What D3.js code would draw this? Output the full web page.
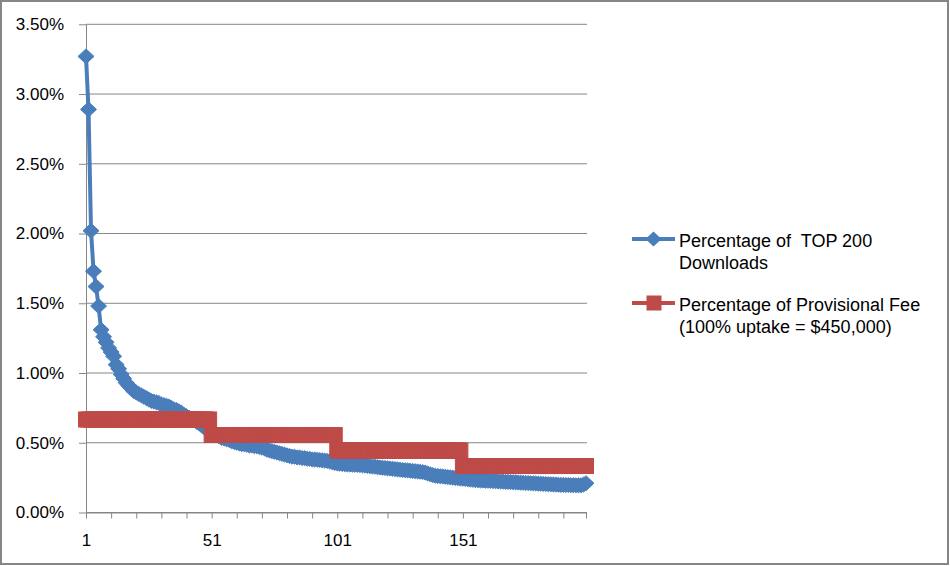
<!DOCTYPE html>
<html>
<head>
<meta charset="utf-8">
<script src="https://cdnjs.cloudflare.com/ajax/libs/d3/7.8.5/d3.min.js"></script>
<style>
body { margin: 0; background: #fff; }
text { font-family: "Liberation Sans", Arial, sans-serif; fill: #000; }
</style>
</head>
<body>
<svg id="chart"></svg>
<script>
// ranks 1..200 on the category axis
const ranks = d3.range(1, 201);
const xTickRanks = [1, 11, 21, 31, 41, 51, 61, 71, 81, 91, 101, 111, 121, 131, 141, 151, 161, 171, 181, 191, 200];
const xLabelRanks = [1, 51, 101, 151];
const yTicks = [0, 0.5, 1.0, 1.5, 2.0, 2.5, 3.0, 3.5];

const seriesNames = ["Percentage of  TOP 200|Downloads", "Percentage of Provisional Fee|(100% uptake = $450,000)"];

// percentage of top 200 downloads
const downloads = [
    3.27, 2.89, 2.02, 1.73, 1.62, 1.48, 1.31, 1.26, 1.22, 1.18,
    1.15, 1.12, 1.06, 1.03, 0.99, 0.96, 0.93, 0.91, 0.89, 0.87,
    0.86, 0.85, 0.84, 0.83, 0.82, 0.81, 0.80, 0.795, 0.79, 0.785,
    0.775, 0.77, 0.765, 0.76, 0.75, 0.74, 0.735, 0.725, 0.715, 0.70,
    0.69, 0.68, 0.67, 0.66, 0.65, 0.64, 0.625, 0.61, 0.60, 0.59,
    0.58, 0.57, 0.555, 0.545, 0.535, 0.53, 0.525, 0.52, 0.51, 0.505,
    0.50, 0.495, 0.49, 0.49, 0.485, 0.48, 0.48, 0.475, 0.475, 0.47,
    0.465, 0.46, 0.45, 0.445, 0.44, 0.435, 0.43, 0.425, 0.42, 0.415,
    0.41, 0.405, 0.40, 0.40, 0.395, 0.395, 0.39, 0.39, 0.385, 0.385,
    0.38, 0.38, 0.378, 0.376, 0.374, 0.372, 0.37, 0.365, 0.36, 0.355,
    0.352, 0.35, 0.348, 0.346, 0.345, 0.344, 0.343, 0.342, 0.341, 0.34,
    0.338, 0.336, 0.334, 0.332, 0.33, 0.328, 0.325, 0.323, 0.321, 0.319,
    0.317, 0.315, 0.313, 0.311, 0.309, 0.307, 0.305, 0.303, 0.302, 0.30,
    0.298, 0.296, 0.294, 0.292, 0.29, 0.286, 0.28, 0.274, 0.268, 0.264,
    0.262, 0.26, 0.258, 0.256, 0.254, 0.252, 0.25, 0.248, 0.246, 0.244,
    0.242, 0.24, 0.238, 0.236, 0.234, 0.232, 0.231, 0.23, 0.229, 0.228,
    0.227, 0.226, 0.225, 0.224, 0.223, 0.222, 0.221, 0.22, 0.219, 0.218,
    0.217, 0.216, 0.215, 0.214, 0.213, 0.212, 0.211, 0.21, 0.209, 0.208,
    0.207, 0.206, 0.205, 0.204, 0.203, 0.202, 0.201, 0.200, 0.199, 0.198,
    0.198, 0.197, 0.197, 0.196, 0.196, 0.195, 0.195, 0.195, 0.20, 0.21
];

// percentage of provisional fee
const provisionalFee = [
    0.6667, 0.6667, 0.6667, 0.6667, 0.6667, 0.6667, 0.6667, 0.6667, 0.6667, 0.6667,
    0.6667, 0.6667, 0.6667, 0.6667, 0.6667, 0.6667, 0.6667, 0.6667, 0.6667, 0.6667,
    0.6667, 0.6667, 0.6667, 0.6667, 0.6667, 0.6667, 0.6667, 0.6667, 0.6667, 0.6667,
    0.6667, 0.6667, 0.6667, 0.6667, 0.6667, 0.6667, 0.6667, 0.6667, 0.6667, 0.6667,
    0.6667, 0.6667, 0.6667, 0.6667, 0.6667, 0.6667, 0.6667, 0.6667, 0.6667, 0.6667,
    0.5556, 0.5556, 0.5556, 0.5556, 0.5556, 0.5556, 0.5556, 0.5556, 0.5556, 0.5556,
    0.5556, 0.5556, 0.5556, 0.5556, 0.5556, 0.5556, 0.5556, 0.5556, 0.5556, 0.5556,
    0.5556, 0.5556, 0.5556, 0.5556, 0.5556, 0.5556, 0.5556, 0.5556, 0.5556, 0.5556,
    0.5556, 0.5556, 0.5556, 0.5556, 0.5556, 0.5556, 0.5556, 0.5556, 0.5556, 0.5556,
    0.5556, 0.5556, 0.5556, 0.5556, 0.5556, 0.5556, 0.5556, 0.5556, 0.5556, 0.5556,
    0.4444, 0.4444, 0.4444, 0.4444, 0.4444, 0.4444, 0.4444, 0.4444, 0.4444, 0.4444,
    0.4444, 0.4444, 0.4444, 0.4444, 0.4444, 0.4444, 0.4444, 0.4444, 0.4444, 0.4444,
    0.4444, 0.4444, 0.4444, 0.4444, 0.4444, 0.4444, 0.4444, 0.4444, 0.4444, 0.4444,
    0.4444, 0.4444, 0.4444, 0.4444, 0.4444, 0.4444, 0.4444, 0.4444, 0.4444, 0.4444,
    0.4444, 0.4444, 0.4444, 0.4444, 0.4444, 0.4444, 0.4444, 0.4444, 0.4444, 0.4444,
    0.3333, 0.3333, 0.3333, 0.3333, 0.3333, 0.3333, 0.3333, 0.3333, 0.3333, 0.3333,
    0.3333, 0.3333, 0.3333, 0.3333, 0.3333, 0.3333, 0.3333, 0.3333, 0.3333, 0.3333,
    0.3333, 0.3333, 0.3333, 0.3333, 0.3333, 0.3333, 0.3333, 0.3333, 0.3333, 0.3333,
    0.3333, 0.3333, 0.3333, 0.3333, 0.3333, 0.3333, 0.3333, 0.3333, 0.3333, 0.3333,
    0.3333, 0.3333, 0.3333, 0.3333, 0.3333, 0.3333, 0.3333, 0.3333, 0.3333, 0.3333
];

// layout
const width = 950;
const height = 566;
const plot = {left: 86, right: 586, top: 24.3, bottom: 512.5};
const gridColor = "#868686";
const blue = "#4a7ebb";
const red = "#be4b48";

const svg = d3.select("#chart")
    .attr("width", width)
    .attr("height", height);

// outer frame
svg.append("rect")
    .attr("x", 1).attr("y", 1)
    .attr("width", width - 3).attr("height", height - 3)
    .attr("fill", "#fff")
    .attr("stroke", gridColor)
    .attr("stroke-width", 2);

const x = d3.scalePoint()
    .domain(ranks)
    .range([plot.left, plot.right]);

const y = d3.scaleLinear()
    .domain([0, 3.5])
    .range([plot.bottom, plot.top]);

// horizontal gridlines
svg.append("g")
    .selectAll("line")
    .data(yTicks)
    .enter()
    .append("line")
    .attr("x1", plot.left)
    .attr("x2", plot.right + 1)
    .attr("y1", d => y(d))
    .attr("y2", d => y(d))
    .attr("stroke", gridColor)
    .attr("stroke-width", 1);

// Y axis
const yAxis = svg.append("g")
    .attr("transform", "translate(" + plot.left + ",0)")
    .call(d3.axisLeft(y)
        .tickValues(yTicks)
        .tickFormat(d => d.toFixed(2) + "%")
        .tickSizeInner(7)
        .tickSizeOuter(0)
        .tickPadding(15));
yAxis.selectAll("path, line").attr("stroke", gridColor);
yAxis.selectAll("text")
    .style("font-size", "17px")
    .style("font-family", "'Liberation Sans', Arial, sans-serif")
    .attr("fill", "#000");

// X axis
const xAxis = svg.append("g")
    .attr("transform", "translate(0," + plot.bottom + ")")
    .call(d3.axisBottom(x)
        .tickValues(xTickRanks)
        .tickFormat(d => xLabelRanks.includes(d) ? d : "")
        .tickSizeInner(6)
        .tickSizeOuter(0)
        .tickPadding(15));
xAxis.selectAll("path, line").attr("stroke", gridColor);
xAxis.selectAll("text")
    .style("font-size", "17px")
    .style("font-family", "'Liberation Sans', Arial, sans-serif")
    .attr("fill", "#000");

const diamond = "M0,-7.5L8,0L0,7.5L-8,0Z";

function drawSeries(values, color, marker) {
    const line = d3.line()
        .x((d, i) => x(ranks[i]))
        .y(d => y(d));

    svg.append("path")
        .datum(values)
        .attr("d", line)
        .attr("fill", "none")
        .attr("stroke", color)
        .attr("stroke-width", 4)
        .attr("stroke-linejoin", "round");

    const g = svg.append("g");
    if (marker === "diamond") {
        g.selectAll("path")
            .data(values)
            .enter()
            .append("path")
            .attr("d", diamond)
            .attr("transform", (d, i) => "translate(" + x(ranks[i]) + "," + y(d) + ")")
            .attr("fill", color)
            .attr("stroke", color)
            .attr("stroke-width", 1);
    } else {
        g.selectAll("rect")
            .data(values)
            .enter()
            .append("rect")
            .attr("x", (d, i) => x(ranks[i]) - 7.5)
            .attr("y", d => y(d) - 7.5)
            .attr("width", 15)
            .attr("height", 15)
            .attr("fill", color)
            .attr("stroke", color)
            .attr("stroke-width", 1);
    }
}

drawSeries(downloads, blue, "diamond");
drawSeries(provisionalFee, red, "square");

// legend
const legendItems = [
    {name: seriesNames[0], color: blue, marker: "diamond", y: 239},
    {name: seriesNames[1], color: red, marker: "square", y: 303}
];

legendItems.forEach(function(item) {
    const g = svg.append("g");
    g.append("line")
        .attr("x1", 632).attr("x2", 675)
        .attr("y1", item.y).attr("y2", item.y)
        .attr("stroke", item.color)
        .attr("stroke-width", 4);
    if (item.marker === "diamond") {
        g.append("path")
            .attr("d", diamond)
            .attr("transform", "translate(653.5," + item.y + ")")
            .attr("fill", item.color);
    } else {
        g.append("rect")
            .attr("x", 646.5).attr("y", item.y - 7.5)
            .attr("width", 15).attr("height", 15)
            .attr("fill", item.color);
    }
    item.name.split("|").forEach(function(txt, k) {
        g.append("text")
            .attr("x", 679)
            .attr("y", item.y + 7.5 + k * 22)
            .style("font-size", "18px")
            .style("white-space", "pre")
            .text(txt);
    });
});
</script>
</body>
</html>
